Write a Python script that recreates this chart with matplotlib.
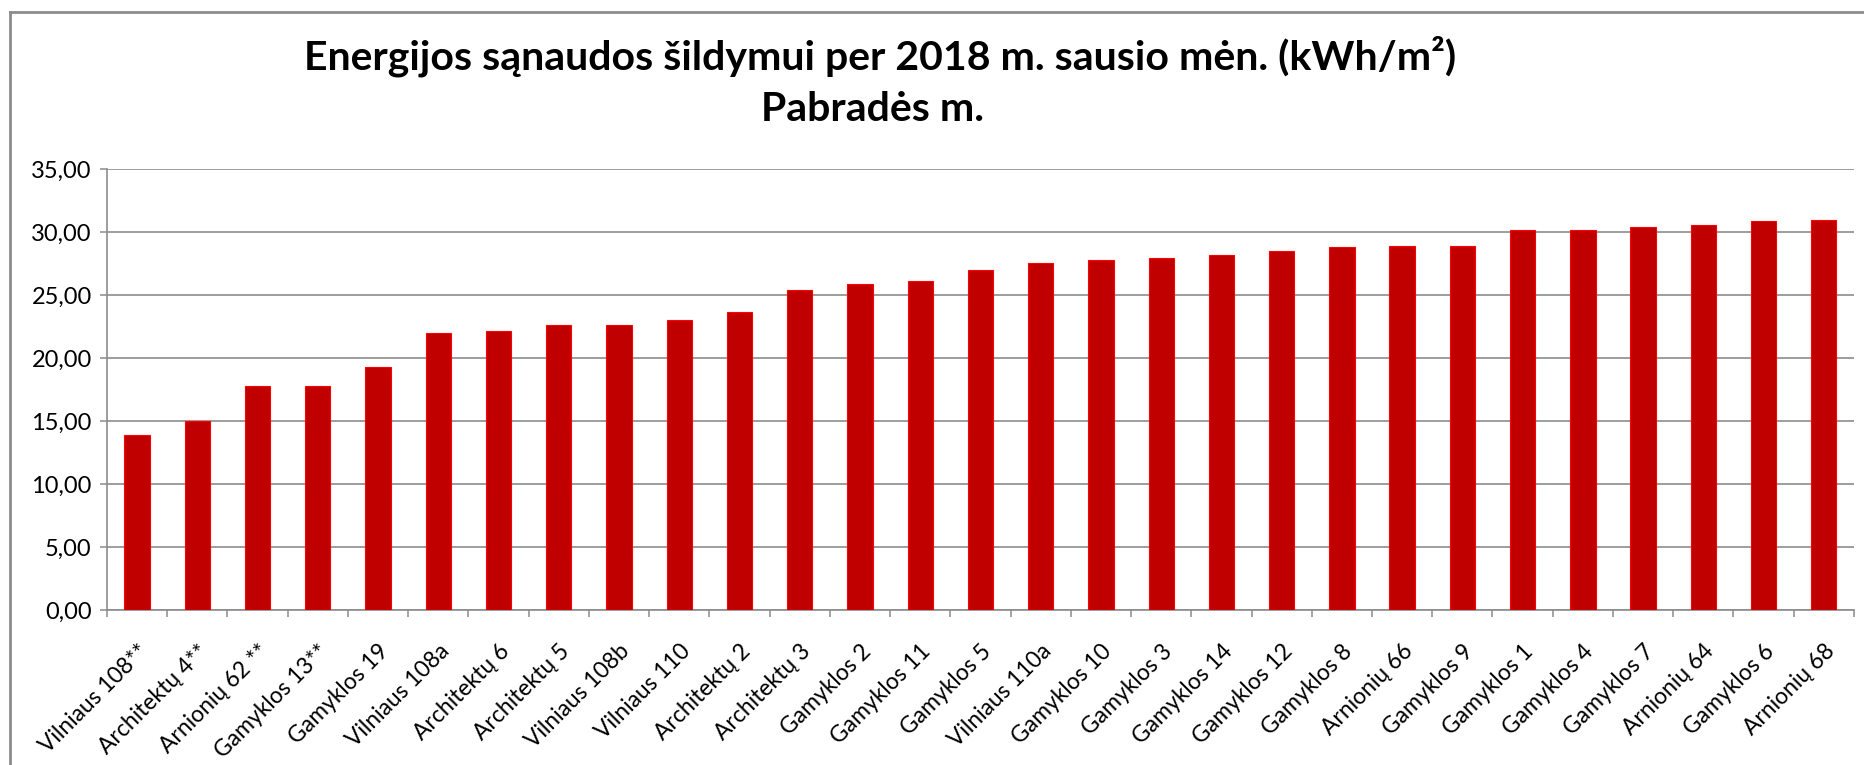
import numpy as np
from matplotlib import pyplot as plt
from matplotlib.lines import Line2D

# Duomenys
pastatai = ['Vilniaus 108**', 'Architektų 4**', 'Arnionių 62 **', 'Gamyklos 13**',
            'Gamyklos 19', 'Vilniaus 108a', 'Architektų 6', 'Architektų 5',
            'Vilniaus 108b', 'Vilniaus 110', 'Architektų 2', 'Architektų 3',
            'Gamyklos 2', 'Gamyklos 11', 'Gamyklos 5', 'Vilniaus 110a',
            'Gamyklos 10', 'Gamyklos 3', 'Gamyklos 14', 'Gamyklos 12',
            'Gamyklos 8', 'Arnionių 66', 'Gamyklos 9', 'Gamyklos 1',
            'Gamyklos 4', 'Gamyklos 7', 'Arnionių 64', 'Gamyklos 6', 'Arnionių 68']
sanaudos = [13.89, 15.03, 17.79, 17.80, 19.31, 22.01, 22.12, 22.60, 22.62, 23.01,
            23.62, 25.40, 25.85, 26.08, 27.01, 27.57, 27.78, 27.96, 28.15, 28.52,
            28.81, 28.89, 28.92, 30.13, 30.13, 30.37, 30.53, 30.90, 30.98]
y_ticks = [0, 5, 10, 15, 20, 25, 30, 35]
y_labels = ['0,00', '5,00', '10,00', '15,00', '20,00', '25,00', '30,00', '35,00']

plt.rcParams['font.family'] = ['Lato', 'DejaVu Sans']
pilka = '#8c8c8c'

fig = plt.figure(figsize=(18.64, 7.65), dpi=100)
ax = fig.add_axes([0.0574, 0.2026, 0.9372, 0.5765])

x = np.arange(len(pastatai))
ax.bar(x, sanaudos, width=0.42, color='#c00000', edgecolor='#ff0000', linewidth=0.8, zorder=3)

ax.set_xlim(-0.5, len(pastatai) - 0.5)
ax.set_ylim(0, 35)
ax.set_yticks(y_ticks)
ax.set_yticklabels(y_labels, fontsize=17)
ax.set_xticks(x)
ax.set_xticklabels(pastatai, rotation=45, ha='right', rotation_mode='anchor', fontsize=16.5)
ax.tick_params(axis='x', length=0, pad=22)
ax.set_xticks(np.arange(-0.5, len(pastatai)), minor=True)
ax.tick_params(axis='x', which='minor', length=5, width=1.1, color=pilka, direction='out')
ax.tick_params(axis='y', length=5, width=1.1, color=pilka, direction='out', pad=6)

ax.grid(axis='y', color=pilka, linewidth=1.2, zorder=0)
for s in ['top', 'right']:
    ax.spines[s].set_visible(False)
for s in ['left', 'bottom']:
    ax.spines[s].set_color(pilka)
    ax.spines[s].set_linewidth(1.2)

fig.text(0.472, 0.926, 'Energijos sąnaudos šildymui per 2018 m. sausio mėn. (kWh/m²)',
         ha='center', va='center', fontsize=29.5, fontweight='bold')
fig.text(0.468, 0.857, 'Pabradės m.', ha='center', va='center', fontsize=29.5, fontweight='bold')

# Remelis aplink diagrama
fig.add_artist(Line2D([0.0054, 1.0], [0.984, 0.984], color=pilka, linewidth=2, transform=fig.transFigure))
fig.add_artist(Line2D([0.0054, 0.0054], [0.0, 0.984], color=pilka, linewidth=2, transform=fig.transFigure))

plt.savefig('out.png')
